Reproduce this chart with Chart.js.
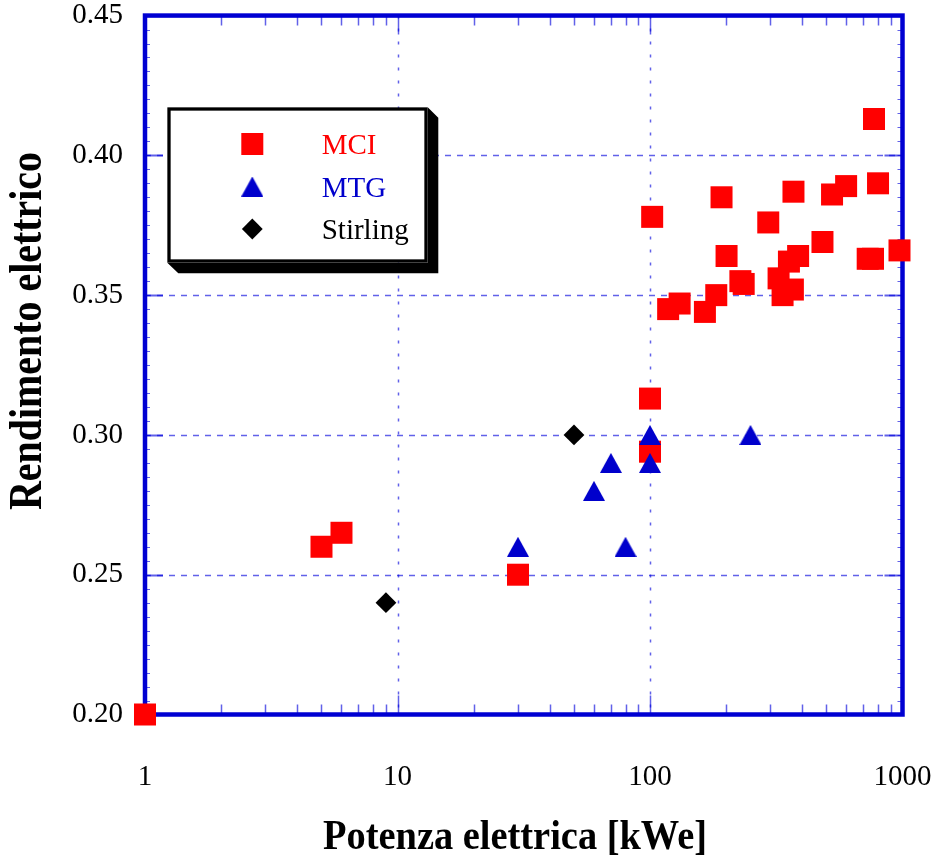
<!DOCTYPE html>
<html><head><meta charset="utf-8">
<script src="https://cdn.jsdelivr.net/npm/chart.js@4.4.1/dist/chart.umd.min.js"></script>
<style>html,body{margin:0;padding:0;background:#fff;}#wrap{width:934px;height:858px;}</style>
</head><body><div id="wrap"><canvas id="c" width="934" height="858"></canvas></div>
<script>
// ---- data ----
const mciX = [1, 5, 6, 30, 100, 100, 102, 118, 131, 165, 183, 192, 201, 228, 235, 294, 323, 335, 355, 370, 368, 386, 482, 526, 598, 728, 764, 771, 800, 973];
const mciY = [0.200, 0.260, 0.265, 0.250, 0.313, 0.294, 0.378, 0.345, 0.347, 0.344, 0.350, 0.385, 0.364, 0.355, 0.354, 0.376, 0.356, 0.350, 0.362, 0.387, 0.352, 0.364, 0.369, 0.386, 0.389, 0.363, 0.363, 0.413, 0.390, 0.366];
const mtgX = [30, 60, 70, 80, 100, 100, 250];
const mtgY = [0.26, 0.28, 0.29, 0.26, 0.30, 0.29, 0.30];
const stirX = [9, 50];
const stirY = [0.24, 0.30];
const xTickValues = [1, 10, 100, 1000];
const yMin = 0.20, yMax = 0.45, yStep = 0.05;
const seriesNames = ['MCI', 'MTG', 'Stirling'];
const xTitle = 'Potenza elettrica [kWe]';
const yTitle = 'Rendimento elettrico';

const RED = '#ff0000', BLUE = '#0000cc', BLACK = '#000000';
const FRAME = '#0000d2';
const GRIDC = 'rgba(0,0,220,0.62)';
const SERIF = '"Liberation Serif", "Times New Roman", serif';

function pts(xs, ys) { return xs.map((x, i) => ({ x: x, y: ys[i] })); }

// triangle marker centred on its bounding box
const tri = document.createElement('canvas');
tri.width = 22; tri.height = 20;
(function () {
  const t = tri.getContext('2d');
  t.fillStyle = BLUE;
  t.beginPath(); t.moveTo(11, 0); t.lineTo(22, 20); t.lineTo(0, 20); t.closePath(); t.fill();
})();

const markerOpts = [
  { pointStyle: 'rect', pointRadius: 15.56, backgroundColor: RED, borderWidth: 0, color: RED },
  { pointStyle: tri, pointRadius: 11, backgroundColor: BLUE, borderWidth: 0, color: BLUE },
  { pointStyle: 'rectRot', pointRadius: 10.4, backgroundColor: BLACK, borderWidth: 0, color: BLACK }
];

const decorPlugin = {
  id: 'decor',
  beforeDatasetsDraw(chart) {
    const ctx = chart.ctx, a = chart.chartArea, xs = chart.scales.x, ys = chart.scales.y;
    ctx.save();
    ctx.strokeStyle = GRIDC;
    ctx.lineWidth = 1.5;
    ctx.setLineDash([6, 6]);
    for (let v = yMin + yStep; v < yMax - 1e-9; v += yStep) {
      const y = Math.round(ys.getPixelForValue(v)) + 0.5;
      ctx.beginPath(); ctx.moveTo(a.left, y); ctx.lineTo(a.right, y); ctx.stroke();
    }
    ctx.setLineDash([3, 10]);
    for (let i = 1; i < xTickValues.length - 1; i++) {
      const x = Math.round(xs.getPixelForValue(xTickValues[i])) + 0.5;
      ctx.beginPath(); ctx.moveTo(x, a.top); ctx.lineTo(x, a.bottom); ctx.stroke();
    }
    ctx.setLineDash([]);
    for (let i = 0; i < xTickValues.length - 1; i++) {
      for (let k = 2; k <= 9; k++) {
        const x = Math.round(xs.getPixelForValue(xTickValues[i] * k)) + 0.5;
        ctx.beginPath();
        ctx.moveTo(x, a.bottom); ctx.lineTo(x, a.bottom - 10);
        ctx.moveTo(x, a.top); ctx.lineTo(x, a.top + 10);
        ctx.stroke();
      }
    }
    for (let i = 1; i < xTickValues.length - 1; i++) {
      const x = Math.round(xs.getPixelForValue(xTickValues[i])) + 0.5;
      ctx.beginPath();
      ctx.moveTo(x, a.bottom); ctx.lineTo(x, a.bottom - 19);
      ctx.moveTo(x, a.top); ctx.lineTo(x, a.top + 19);
      ctx.stroke();
    }
    ctx.lineWidth = 1;
    for (let v = yMin + 0.005; v < yMax - 1e-9; v += 0.005) {
      const y = Math.round(ys.getPixelForValue(v)) + 0.5;
      ctx.beginPath();
      ctx.moveTo(a.left, y); ctx.lineTo(a.left + 5, y);
      ctx.moveTo(a.right, y); ctx.lineTo(a.right - 5, y);
      ctx.stroke();
    }
    ctx.lineWidth = 1.8;
    for (let v = yMin + yStep; v < yMax - 1e-9; v += yStep) {
      const y = Math.round(ys.getPixelForValue(v)) + 0.5;
      ctx.beginPath();
      ctx.moveTo(a.left, y); ctx.lineTo(a.left + 18, y);
      ctx.moveTo(a.right, y); ctx.lineTo(a.right - 18, y);
      ctx.stroke();
    }
    ctx.strokeStyle = FRAME;
    ctx.lineWidth = 4.5;
    ctx.strokeRect(a.left, a.top, a.right - a.left, a.bottom - a.top);
    ctx.restore();
  },
  afterDraw(chart) {
    const ctx = chart.ctx;
    ctx.save();
    ctx.fillStyle = '#000';
    ctx.beginPath();
    ctx.moveTo(427.7, 107.3); ctx.lineTo(438.3, 117.8); ctx.lineTo(438.3, 273.3);
    ctx.lineTo(178.3, 273.3); ctx.lineTo(167.3, 262.7); ctx.lineTo(427.7, 262.7); ctx.closePath();
    ctx.fill();
    ctx.fillStyle = '#fff';
    ctx.fillRect(169, 109, 257, 152);
    ctx.strokeStyle = '#000'; ctx.lineWidth = 3.3;
    ctx.strokeRect(169, 109, 257, 152);
    const rowsMarkerY = [144, 186.5, 229];
    const rowsBase = [154, 196.7, 239.3];
    ctx.font = '29px ' + SERIF;
    ctx.textAlign = 'left'; ctx.textBaseline = 'alphabetic';
    for (let i = 0; i < seriesNames.length; i++) {
      const m = markerOpts[i];
      ctx.fillStyle = m.backgroundColor;
      Chart.helpers.drawPoint(ctx, { pointStyle: m.pointStyle, radius: m.pointRadius, rotation: 0, borderWidth: 0 }, 252.3, rowsMarkerY[i]);
      ctx.fillStyle = m.color;
      ctx.fillText(seriesNames[i], 321.7, rowsBase[i]);
    }
    ctx.fillStyle = '#000';
    ctx.textAlign = 'center'; ctx.textBaseline = 'middle';
    ctx.font = 'bold 43px ' + SERIF;
    let w = ctx.measureText(xTitle).width;
    ctx.save();
    ctx.translate(515, 838);
    ctx.scale(384 / w, 1);
    ctx.fillText(xTitle, 0, 0);
    ctx.restore();
    ctx.font = 'bold 46px ' + SERIF;
    w = ctx.measureText(yTitle).width;
    ctx.save();
    ctx.translate(29, 331);
    ctx.rotate(-Math.PI / 2);
    ctx.scale(358 / w, 1);
    ctx.fillText(yTitle, 0, 0);
    ctx.restore();
    ctx.restore();
  }
};

Chart.defaults.font.family = SERIF;

new Chart(document.getElementById('c'), {
  type: 'scatter',
  data: {
    datasets: [
      { label: seriesNames[0], order: 3, data: pts(mciX, mciY), pointStyle: markerOpts[0].pointStyle, pointRadius: markerOpts[0].pointRadius, backgroundColor: RED, borderWidth: 0, clip: false },
      { label: seriesNames[1], order: 2, data: pts(mtgX, mtgY), pointStyle: markerOpts[1].pointStyle, pointRadius: markerOpts[1].pointRadius, backgroundColor: BLUE, borderWidth: 0, clip: false },
      { label: seriesNames[2], order: 1, data: pts(stirX, stirY), pointStyle: markerOpts[2].pointStyle, pointRadius: markerOpts[2].pointRadius, backgroundColor: BLACK, borderWidth: 0, clip: false }
    ]
  },
  options: {
    responsive: false,
    animation: false,
    devicePixelRatio: 1,
    events: [],
    layout: { padding: { left: 0, right: 31.5, top: 15.3, bottom: 0 } },
    plugins: { legend: { display: false }, tooltip: { enabled: false } },
    scales: {
      x: {
        type: 'logarithmic', min: 1, max: 1000, position: 'bottom',
        grid: { display: false, drawTicks: false }, border: { display: false },
        afterBuildTicks(s) { s.ticks = xTickValues.map(v => ({ value: v })); },
        afterFit(s) { s.height = 858 - 714.5; s.paddingLeft = 0; s.paddingRight = 0; },
        ticks: { autoSkip: false, maxRotation: 0, padding: 48, color: '#000', font: { size: 29, lineHeight: 1 }, callback: v => String(v) }
      },
      y: {
        type: 'linear', min: yMin, max: yMax,
        grid: { display: false, drawTicks: false }, border: { display: false },
        afterFit(s) { s.width = 145; s.paddingTop = 0; s.paddingBottom = 0; },
        ticks: { stepSize: yStep, padding: 22, color: '#000', font: { size: 29, lineHeight: 1 }, callback: v => v.toFixed(2) }
      }
    }
  },
  plugins: [decorPlugin]
});
</script>
</body></html>
